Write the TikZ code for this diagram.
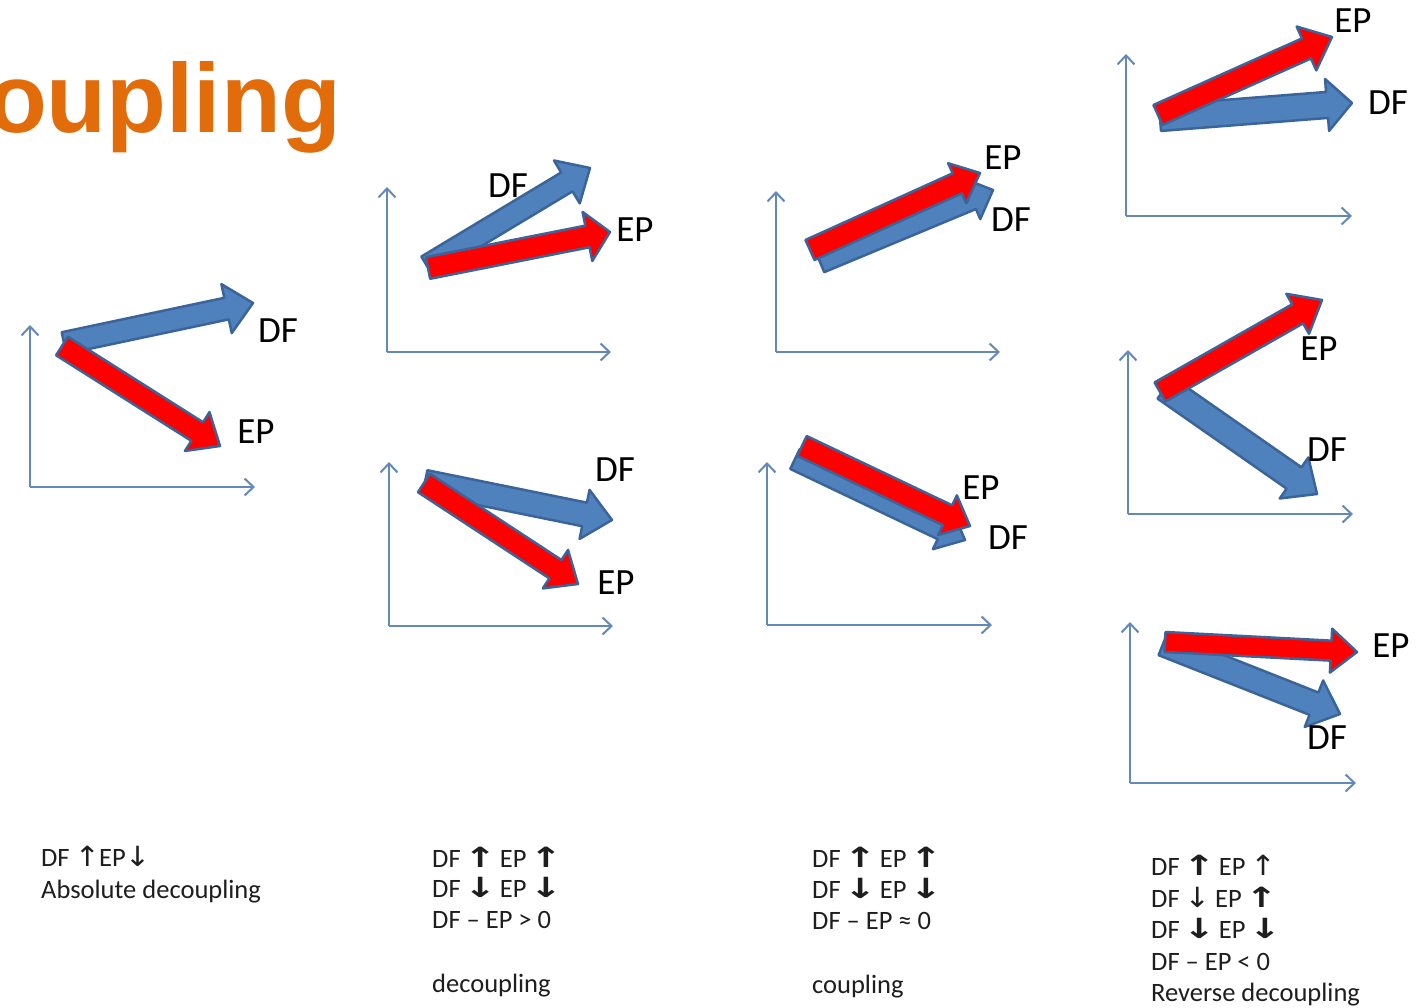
\documentclass[tikz,border=0pt]{standalone}
\usepackage{graphicx}
\usepackage{fontspec}
\setmainfont{Carlito}
\newfontfamily\arrfont{DejaVu Sans}
\newfontfamily\titlefont{Liberation Sans}
\usetikzlibrary{arrows.meta}
\definecolor{bfill}{HTML}{4F81BD}
\definecolor{bline}{HTML}{3B659A}
\definecolor{axcol}{HTML}{6389BA}
\definecolor{orng}{HTML}{E36C0A}
\definecolor{txtc}{HTML}{1E1E1E}
\newcommand\tkUp{{\kern-2.5pt\arrfont\bfseries\scalebox{1.45}[1.05]{↑}\kern-2.5pt}}
\newcommand\tkDn{{\kern-2.5pt\arrfont\bfseries\scalebox{1.45}[1.05]{↓}\kern-2.5pt}}
\newcommand\tkup{{\kern-1pt\arrfont\scalebox{1.15}[1.05]{↑}\kern-1pt}}
\newcommand\tkdn{{\kern-1pt\arrfont\scalebox{1.15}[1.05]{↓}\kern-1pt}}
% block arrow: style, x1, y1, x2, y2, shaft half width, head half width, head length
\newcommand\blkarrow[8]{%
 \pgfmathsetmacro\bdx{#4-#2}%
 \pgfmathsetmacro\bdy{#5-#3}%
 \pgfmathsetmacro\bL{veclen(\bdx,\bdy)}%
 \pgfmathsetmacro\bux{\bdx/\bL}%
 \pgfmathsetmacro\buy{\bdy/\bL}%
 \pgfmathsetmacro\bbx{#4-\bux*#8}%
 \pgfmathsetmacro\bby{#5-\buy*#8}%
 \draw[#1] ({#2-\buy*#6},{#3+\bux*#6}) -- ({\bbx-\buy*#6},{\bby+\bux*#6}) -- ({\bbx-\buy*#7},{\bby+\bux*#7}) -- (#4,#5) -- ({\bbx+\buy*#7},{\bby-\bux*#7}) -- ({\bbx+\buy*#6},{\bby-\bux*#6}) -- ({#2+\buy*#6},{#3-\bux*#6}) -- cycle;}
% axes: name, x0, y0, ytop, xright
\newcommand\axpair[5]{%
 \coordinate (#1o) at (#2,#3);
 \coordinate (#1t) at (#2,#4);
 \coordinate (#1r) at (#5,#3);
 \draw[axis] (#1o) -- (#1t);
 \draw[axis] (#1o) -- (#1r);}
\begin{document}
\begin{tikzpicture}[x=1pt,y=-1pt,
 axis/.style={draw=axcol,line width=2pt,-{Straight Barb[length=9pt,width=17pt,line width=2pt]}},
 bluearr/.style={fill=bfill,draw=bline,line width=2.5pt,line join=round},
 redarr/.style={fill=red,draw=bline,line width=2.5pt,line join=round},
 lab/.style={font=\fontsize{37}{37}\selectfont,text=black,inner sep=0pt},
 captxt/.style={font=\fontsize{26.5}{30}\selectfont,text=txtc,inner sep=0pt,anchor=base west}]
\fill[white] (0,0) rectangle (1419,1008);
\useasboundingbox (0,0) rectangle (1419,1008);
\begin{scope}
\clip (0,0) rectangle (1419,1008);
\node[font=\titlefont\bfseries\fontsize{98}{98}\selectfont,text=orng,anchor=base east,inner sep=0pt] (title) at (341,133) {oupling};
\end{scope}

% ---- axes
\axpair{pa}{30}{487}{325}{255}
\axpair{pb}{387}{352}{187}{611}
\axpair{pc}{389}{626}{462}{613}
\axpair{pd}{776}{352}{191}{1000}
\axpair{pe}{767}{625}{462}{992}
\axpair{pf}{1126}{216}{54}{1352}
\axpair{pg}{1128}{514}{350}{1353}
\axpair{ph}{1130}{783}{622}{1356}

% ---- panel 1: absolute decoupling
\blkarrow{bluearr}{64}{343}{253}{303}{11}{25}{27}
\blkarrow{redarr}{62}{346}{220}{446}{11}{23}{27}
\node[lab] (a1) at (278,331) {DF};
\node[lab] (a2) at (256,432) {EP};

% ---- panel 2 top
\blkarrow{bluearr}{427}{266}{590}{168}{11}{25}{27}
\blkarrow{redarr}{428}{268}{610}{232}{11}{25}{23}
\node[lab] (b1) at (508,186) {DF};
\node[lab] (b2) at (635,230) {EP};

% ---- panel 2 bottom
\blkarrow{bluearr}{425}{482}{612}{520}{12}{25}{28}
\blkarrow{redarr}{424}{483}{578}{584}{11}{23}{27}
\node[lab] (c1) at (615,470) {DF};
\node[lab] (c2) at (616,583) {EP};

% ---- panel 3 top
\blkarrow{bluearr}{820}{262}{993}{190}{11}{22}{23}
\blkarrow{redarr}{810}{250}{980}{173}{11}{22}{25}
\node[lab] (d1) at (1003,158) {EP};
\node[lab] (d2) at (1011,220) {DF};

% ---- panel 3 bottom
\blkarrow{bluearr}{795}{459}{965}{540}{11}{22}{25}
\blkarrow{redarr}{802}{446}{970}{526}{11}{22}{25}
\node[lab] (e1) at (981,488) {EP};
\node[lab] (e2) at (1008,538) {DF};

% ---- panel 4 top
\blkarrow{bluearr}{1160}{118}{1352}{103}{13}{26}{25}
\blkarrow{redarr}{1158}{115}{1332}{37}{11}{24}{28}
\node[lab] (f1) at (1353,21) {EP};
\node[lab] (f2) at (1388,103) {DF};

% ---- panel 4 middle
\blkarrow{bluearr}{1165}{388}{1317}{494}{13}{25}{28}
\blkarrow{redarr}{1160}{392}{1322}{300}{11}{23}{28}
\node[lab] (g1) at (1319,349) {EP};
\node[lab] (g2) at (1327,450) {DF};

% ---- panel 4 bottom
\blkarrow{bluearr}{1163}{644}{1340}{714}{12}{25}{28}
\blkarrow{redarr}{1165}{642}{1357}{652}{10}{22}{26}
\node[lab] (h1) at (1391,646) {EP};
\node[lab] (h2) at (1327,738) {DF};

% ---- captions
\node[captxt] (t11) at (41,866) {DF \tkup EP\tkdn};
\node[captxt] (t12) at (41,898) {Absolute decoupling};

\node[captxt] (t21) at (432,867) {DF \tkUp{} EP \tkUp};
\node[captxt] (t22) at (432,897) {DF \tkDn{} EP \tkDn};
\node[captxt] (t23) at (432,928) {DF – EP > 0};
\node[captxt] (t24) at (432,992) {decoupling};

\node[captxt] (t31) at (812,867) {DF \tkUp{} EP \tkUp};
\node[captxt] (t32) at (812,898) {DF \tkDn{} EP \tkDn};
\node[captxt] (t33) at (812,929) {DF – EP ≈ 0};
\node[captxt] (t34) at (812,993) {coupling};

\node[captxt] (t41) at (1151,875) {DF \tkUp{} EP \tkup};
\node[captxt] (t42) at (1151,907) {DF \tkdn{} EP \tkUp};
\node[captxt] (t43) at (1151,938) {DF \tkDn{} EP \tkDn};
\node[captxt] (t44) at (1151,970) {DF – EP < 0};
\node[captxt] (t45) at (1151,1001) {Reverse decoupling};
\end{tikzpicture}
\end{document}
